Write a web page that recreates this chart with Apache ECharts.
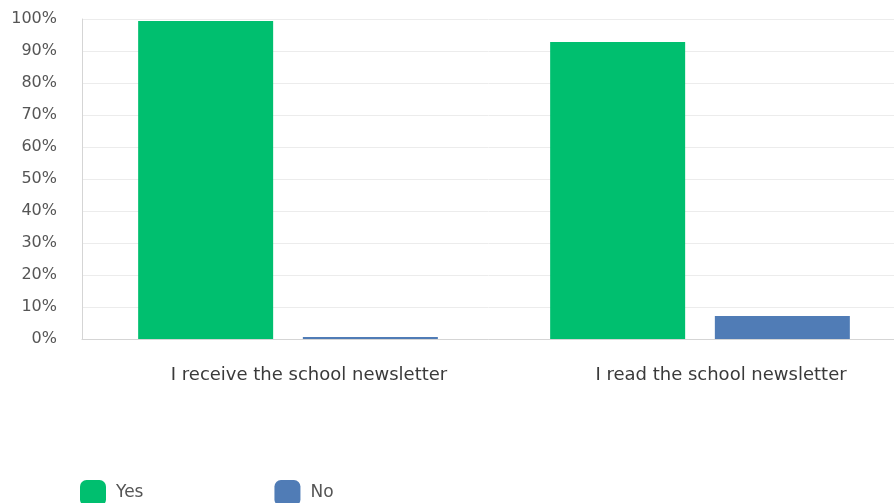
<!DOCTYPE html>
<html>
<head>
<meta charset="utf-8">
<script src="https://cdn.jsdelivr.net/npm/echarts@6/dist/echarts.min.js"></script>
<style>
  html, body { margin: 0; padding: 0; background: #fff; }
  #chart { width: 894px; height: 503px; }
</style>
</head>
<body>
<div id="chart"></div>
<script>
const categories = ['I receive the school newsletter', 'I read the school newsletter']
const yesValues = [99.4, 92.8]
const noValues = [0.6, 7.2]
const yTicks = [0, 10, 20, 30, 40, 50, 60, 70, 80, 90, 100]

const chart = echarts.init(document.getElementById('chart'))
chart.setOption({
  animation: false,
  textStyle: { fontFamily: 'DejaVu Sans' },
  // plot area runs a bit past the right edge, as in the reference
  grid: { left: 82, width: 824, top: 19, bottom: 164, outerBoundsMode: 'none' },
  legend: {
    data: ['Yes', 'No'],
    left: 75,
    top: 475,
    icon: 'roundRect',
    itemWidth: 26,
    itemHeight: 26,
    itemGap: 131,
    textStyle: { fontSize: 17, color: '#555', fontFamily: 'DejaVu Sans', padding: [2, 0, 0, 5] }
  },
  xAxis: {
    type: 'category',
    data: categories,
    axisLine: { lineStyle: { color: '#d5d5d5' } },
    axisTick: { show: false },
    // labels sit a little right of the category centre in the reference
    axisLabel: { fontSize: 18, color: '#3a3a3a', margin: 27, padding: [0, 0, 0, 42] }
  },
  yAxis: {
    type: 'value',
    min: yTicks[0],
    max: yTicks[yTicks.length - 1],
    interval: 10,
    axisLine: { show: true, lineStyle: { color: '#d5d5d5' } },
    axisTick: { show: false },
    splitLine: { lineStyle: { color: '#ececec' } },
    axisLabel: { formatter: '{value}%', fontSize: 16, color: '#555', margin: 25 }
  },
  series: [
    {
      name: 'Yes',
      type: 'bar',
      data: yesValues,
      barWidth: 135,
      barGap: '22%',
      itemStyle: { color: '#00BF6F' }
    },
    {
      name: 'No',
      type: 'bar',
      data: noValues,
      barWidth: 135,
      itemStyle: { color: '#507CB6' }
    }
  ]
})
</script>
</body>
</html>
